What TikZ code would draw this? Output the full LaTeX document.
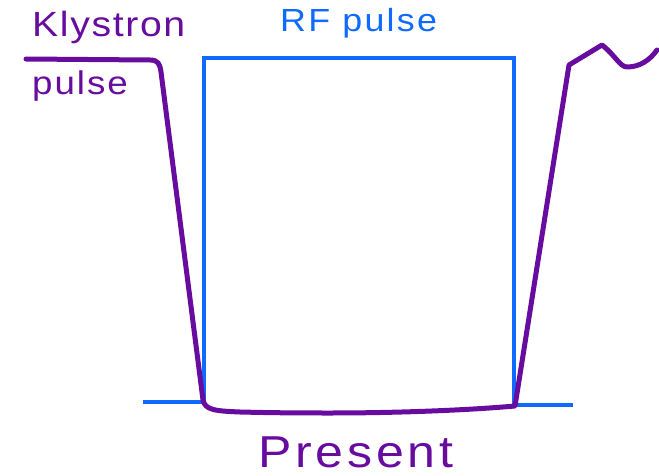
\documentclass[tikz,border=0pt]{standalone}
\usepackage{fontspec}
\setmainfont{Liberation Sans}
\newfontfamily\kfa[FakeStretch=1.12,LetterSpace=4.7]{Liberation Sans}
\newfontfamily\kfb[FakeStretch=1.12,LetterSpace=6]{Liberation Sans}
\newfontfamily\kfc[FakeStretch=1.12,LetterSpace=7]{Liberation Sans}
\newfontfamily\kfd[FakeStretch=1.12,LetterSpace=8.4]{Liberation Sans}
\definecolor{kpurple}{HTML}{680CA0}
\definecolor{rfblue}{HTML}{0F6BFF}
\begin{document}
\begin{tikzpicture}[x=1pt,y=-1pt,
  lbl/.style={inner sep=0pt,anchor=base west},
  rfline/.style={draw=rfblue,line width=3.5pt,line join=miter},
  kline/.style={draw=kpurple,line width=5pt,line cap=round,line join=round}]
\useasboundingbox (0,0) rectangle (659,476);
% RF pulse
\coordinate (b1) at (143,402);
\coordinate (b2) at (204,402);
\coordinate (t1) at (204,58);
\coordinate (t2) at (514,58);
\coordinate (b3) at (514,405);
\coordinate (b4) at (573,405);
\draw[rfline] (b1) -- (b2) -- (t1) -- (t2) -- (b3) -- (b4);
% Klystron pulse
\coordinate (k0) at (26,59);
\coordinate (k1) at (150,60);
\coordinate (k2) at (161,72);
\coordinate (k3) at (203,400);
\coordinate (k4) at (330,413);
\coordinate (k5) at (515,406);
\coordinate (k6) at (569,65);
\coordinate (k7) at (602,45);
\coordinate (k8) at (627,67);
\coordinate (k9) at (657,50);
\draw[kline] (k0) -- (k1) .. controls (158,60) and (160,64) .. (k2) -- (k3)
  .. controls (205,410) and (215,411) .. (240,412) .. controls (280,413) and (310,413) .. (k4)
  .. controls (400,413) and (470,410) .. (k5) -- (k6) -- (k7)
  .. controls (615,55) and (620,67) .. (k8) .. controls (640,67) and (650,60) .. (k9);
% labels
\node[lbl,text=kpurple,font=\kfa\fontsize{35}{35}\selectfont] (kly) at (32,37) {Klystron};
\node[lbl,text=kpurple,font=\kfb\fontsize{32.8}{33}\selectfont] (pul) at (32,95) {pulse};
\node[lbl,text=rfblue,font=\kfc\fontsize{32}{32}\selectfont] (rf) at (280,32) {RF pulse};
\node[lbl,text=kpurple,font=\kfd\fontsize{44.7}{45}\selectfont] (pres) at (258,467) {Present};
\end{tikzpicture}
\end{document}
